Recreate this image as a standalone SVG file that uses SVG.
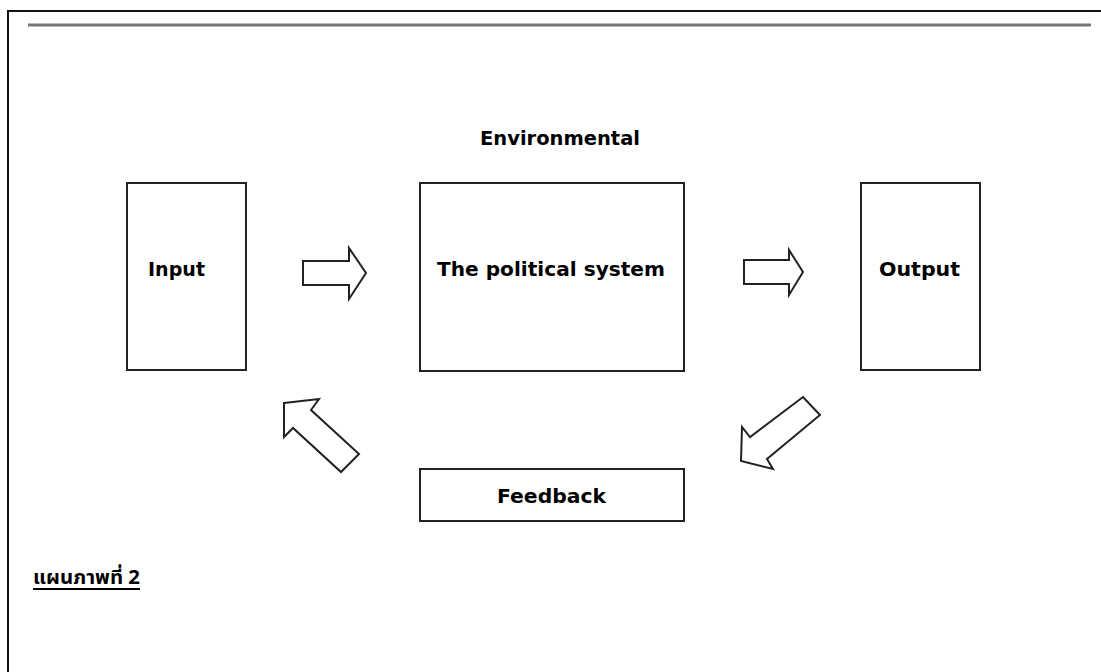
<svg xmlns="http://www.w3.org/2000/svg" width="1101" height="672" viewBox="0 0 1101 672">
  <style>
    .box { fill: #fff; stroke: #222; stroke-width: 2; }
    .arrow { fill: #fff; stroke: #222; stroke-width: 2; stroke-linejoin: miter; }
    .lbl { font-family: "DejaVu Sans", "Liberation Sans", sans-serif; font-weight: bold; font-size: 20px; fill: #000; }
    .thai { font-family: "Noto Sans Thai", "Noto Sans", "DejaVu Sans", sans-serif; font-weight: bold; font-size: 19px; fill: #000; }
  </style>
  <rect width="1101" height="672" fill="#fff"/>
  <!-- page frame -->
  <g id="frame">
    <polyline points="8,672 8,11 1101,11" fill="none" stroke="#111" stroke-width="2"/>
    <line x1="28" y1="25" x2="1091" y2="25" stroke="#777" stroke-width="3"/>
  </g>
  <text class="lbl" x="480" y="145" textLength="160" lengthAdjust="spacingAndGlyphs">Environmental</text>
  <g id="input">
    <rect class="box" x="127" y="183" width="119" height="187"/>
    <text class="lbl" x="148" y="276" textLength="57" lengthAdjust="spacingAndGlyphs">Input</text>
  </g>
  <g id="political-system">
    <rect class="box" x="420" y="183" width="264" height="188"/>
    <text class="lbl" x="437" y="276" textLength="228" lengthAdjust="spacingAndGlyphs">The political system</text>
  </g>
  <g id="output">
    <rect class="box" x="861" y="183" width="119" height="187"/>
    <text class="lbl" x="879" y="276" textLength="81" lengthAdjust="spacingAndGlyphs">Output</text>
  </g>
  <g id="feedback">
    <rect class="box" x="420" y="469" width="264" height="52"/>
    <text class="lbl" x="497" y="503" textLength="109" lengthAdjust="spacingAndGlyphs">Feedback</text>
  </g>
  <!-- block arrows -->
  <g id="connectors">
    <polygon class="arrow" points="303,261 349,261 349,248 366,273 349,299 349,285 303,285"/>
    <polygon class="arrow" points="744,260 789,260 789,250 803,272 789,295 789,284 744,284"/>
    <polygon class="arrow" points="741,461 742,427 750,437 803,397 820,415 767,459 773,469"/>
    <polygon class="arrow" points="284,403 319,399 311,410 359,454 341,472 293,428 284,437"/>
  </g>
  <text class="thai" x="33" y="584" textLength="107" lengthAdjust="spacingAndGlyphs">แผนภาพที่ 2</text>
  <line x1="33" y1="589" x2="140" y2="589" stroke="#000" stroke-width="2"/>
</svg>
